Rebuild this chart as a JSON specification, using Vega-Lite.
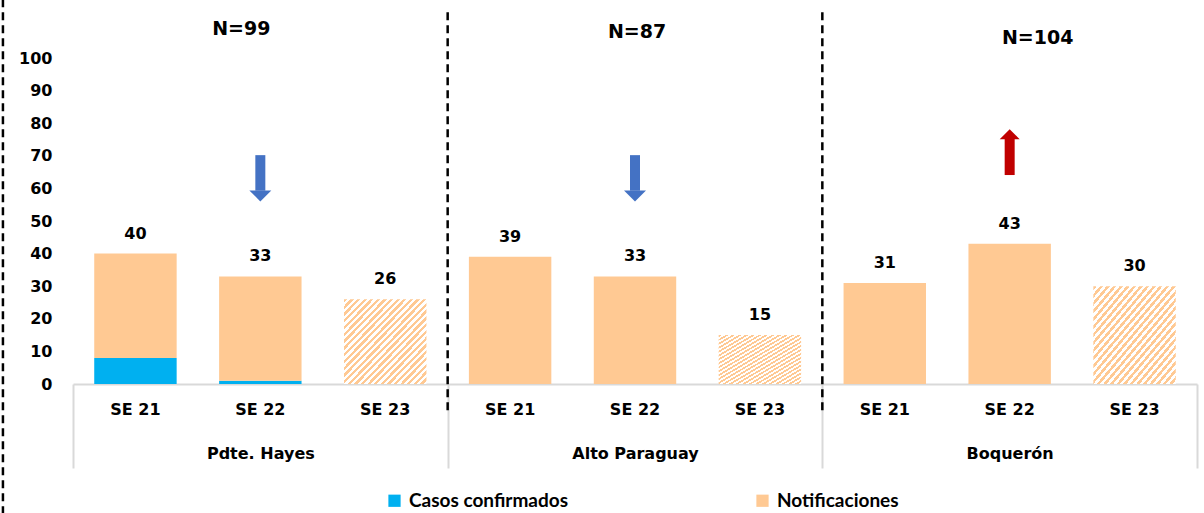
{
  "$schema": "https://vega.github.io/schema/vega-lite/v6.json",
  "width": 1124,
  "height": 326,
  "autosize": {"type": "none"},
  "padding": {"left": 73, "top": 58, "right": 7, "bottom": 129},
  "background": "#FFFFFF",
  "config": {
    "view": {"stroke": null},
    "axis": {"labelFont": "DejaVu Sans", "labelFontWeight": "bold", "labelColor": "#000000", "labelFontSize": 16, "titleFont": "DejaVu Sans", "labelOverlap": false},
    "axisY": {"labelOverlap": false},
    "axisLeft": {"labelOverlap": false},
    "axisQuantitative": {"labelOverlap": false, "tickCount": 11},
    "text": {"font": "DejaVu Sans", "fontWeight": "bold", "color": "#000000"}
  },
  "datasets": {
    "bars": [
      {"region": "Pdte. Hayes", "semana": "SE 21", "clave": "Pdte. Hayes|SE 21", "serie": "Casos confirmados", "valor": 8},
      {"region": "Pdte. Hayes", "semana": "SE 21", "clave": "Pdte. Hayes|SE 21", "serie": "Notificaciones", "valor": 32},
      {"region": "Pdte. Hayes", "semana": "SE 22", "clave": "Pdte. Hayes|SE 22", "serie": "Casos confirmados", "valor": 1},
      {"region": "Pdte. Hayes", "semana": "SE 22", "clave": "Pdte. Hayes|SE 22", "serie": "Notificaciones", "valor": 32},
      {"region": "Pdte. Hayes", "semana": "SE 23", "clave": "Pdte. Hayes|SE 23", "serie": "Casos confirmados", "valor": 0},
      {"region": "Pdte. Hayes", "semana": "SE 23", "clave": "Pdte. Hayes|SE 23", "serie": "Notificaciones", "valor": 26},
      {"region": "Alto Paraguay", "semana": "SE 21", "clave": "Alto Paraguay|SE 21", "serie": "Casos confirmados", "valor": 0},
      {"region": "Alto Paraguay", "semana": "SE 21", "clave": "Alto Paraguay|SE 21", "serie": "Notificaciones", "valor": 39},
      {"region": "Alto Paraguay", "semana": "SE 22", "clave": "Alto Paraguay|SE 22", "serie": "Casos confirmados", "valor": 0},
      {"region": "Alto Paraguay", "semana": "SE 22", "clave": "Alto Paraguay|SE 22", "serie": "Notificaciones", "valor": 33},
      {"region": "Alto Paraguay", "semana": "SE 23", "clave": "Alto Paraguay|SE 23", "serie": "Casos confirmados", "valor": 0},
      {"region": "Alto Paraguay", "semana": "SE 23", "clave": "Alto Paraguay|SE 23", "serie": "Notificaciones", "valor": 15},
      {"region": "Boquerón", "semana": "SE 21", "clave": "Boquerón|SE 21", "serie": "Casos confirmados", "valor": 0},
      {"region": "Boquerón", "semana": "SE 21", "clave": "Boquerón|SE 21", "serie": "Notificaciones", "valor": 31},
      {"region": "Boquerón", "semana": "SE 22", "clave": "Boquerón|SE 22", "serie": "Casos confirmados", "valor": 0},
      {"region": "Boquerón", "semana": "SE 22", "clave": "Boquerón|SE 22", "serie": "Notificaciones", "valor": 43},
      {"region": "Boquerón", "semana": "SE 23", "clave": "Boquerón|SE 23", "serie": "Casos confirmados", "valor": 0},
      {"region": "Boquerón", "semana": "SE 23", "clave": "Boquerón|SE 23", "serie": "Notificaciones", "valor": 30}
    ],
    "regiones": [
      {"region": "Pdte. Hayes", "n": "N=99"},
      {"region": "Alto Paraguay", "n": "N=87"},
      {"region": "Boquerón", "n": "N=104"}
    ],
    "flechas": [
      {"clave": "Pdte. Hayes|SE 22", "tendencia": "baja"},
      {"clave": "Alto Paraguay|SE 22", "tendencia": "baja"},
      {"clave": "Boquerón|SE 22", "tendencia": "sube"}
    ]
  },
  "layer": [
    {
      "data": {"name": "bars"},
      "encoding": {
        "x": {
          "field": "clave",
          "type": "nominal",
          "scale": {
            "domain": ["Pdte. Hayes|SE 21", "Pdte. Hayes|SE 22", "Pdte. Hayes|SE 23", "Alto Paraguay|SE 21", "Alto Paraguay|SE 22", "Alto Paraguay|SE 23", "Boquerón|SE 21", "Boquerón|SE 22", "Boquerón|SE 23"],
            "paddingInner": 0.34,
            "paddingOuter": 0.17
          },
          "axis": {
            "orient": "bottom",
            "title": null,
            "labelExpr": "split(datum.value, '|')[1]",
            "labelAngle": 0,
            "ticks": false,
            "domain": true,
            "domainColor": "#D9D9D9",
            "domainWidth": 2,
            "labelPadding": 17,
            "labelBaseline": "top"
          }
        }
      },
      "layer": [
        {
          "transform": [{"filter": "datum.semana !== 'SE 23'"}],
          "mark": {"type": "bar"},
          "encoding": {
            "y": {
              "field": "valor",
              "type": "quantitative",
              "stack": "zero",
              "scale": {"domain": [0, 100], "nice": false},
              "axis": {"title": null, "values": [0, 10, 20, 30, 40, 50, 60, 70, 80, 90, 100], "tickCount": 11, "grid": false, "domain": false, "ticks": false, "labelPadding": 21, "labelOverlap": false}
            },
            "color": {
              "field": "serie",
              "type": "nominal",
              "scale": {"domain": ["Casos confirmados", "Notificaciones"], "range": ["#00B0F0", "#FFC993"]},
              "legend": {
                "orient": "none",
                "legendX": 312,
                "legendY": 433,
                "direction": "horizontal",
                "title": null,
                "symbolType": "square",
                "symbolSize": 150,
                "symbolStrokeWidth": 0,
                "labelFont": "Lato",
                "labelFontSize": 19,
                "labelFontWeight": "bold",
                "labelColor": "#000000",
                "labelOffset": 5,
                "columnPadding": 185,
                "labelLimit": 400
              }
            },
            "order": {"field": "serie", "sort": "ascending"}
          }
        },
        {
          "transform": [{"filter": "datum.semana === 'SE 23' && datum.serie === 'Notificaciones'"}],
          "mark": {
            "type": "bar",
            "fill": {
              "gradient": "linear",
              "x1": 0, "y1": 0, "x2": 1, "y2": 1,
              "stops": [
                {"offset": 0, "color": "#FFC993"}, {"offset": 0.02, "color": "#FFC993"}, {"offset": 0.02, "color": "#FFFFFF"}, {"offset": 0.04, "color": "#FFFFFF"},
                {"offset": 0.04, "color": "#FFC993"}, {"offset": 0.06, "color": "#FFC993"}, {"offset": 0.06, "color": "#FFFFFF"}, {"offset": 0.08, "color": "#FFFFFF"},
                {"offset": 0.08, "color": "#FFC993"}, {"offset": 0.10, "color": "#FFC993"}, {"offset": 0.10, "color": "#FFFFFF"}, {"offset": 0.12, "color": "#FFFFFF"},
                {"offset": 0.12, "color": "#FFC993"}, {"offset": 0.14, "color": "#FFC993"}, {"offset": 0.14, "color": "#FFFFFF"}, {"offset": 0.16, "color": "#FFFFFF"},
                {"offset": 0.16, "color": "#FFC993"}, {"offset": 0.18, "color": "#FFC993"}, {"offset": 0.18, "color": "#FFFFFF"}, {"offset": 0.20, "color": "#FFFFFF"},
                {"offset": 0.20, "color": "#FFC993"}, {"offset": 0.22, "color": "#FFC993"}, {"offset": 0.22, "color": "#FFFFFF"}, {"offset": 0.24, "color": "#FFFFFF"},
                {"offset": 0.24, "color": "#FFC993"}, {"offset": 0.26, "color": "#FFC993"}, {"offset": 0.26, "color": "#FFFFFF"}, {"offset": 0.28, "color": "#FFFFFF"},
                {"offset": 0.28, "color": "#FFC993"}, {"offset": 0.30, "color": "#FFC993"}, {"offset": 0.30, "color": "#FFFFFF"}, {"offset": 0.32, "color": "#FFFFFF"},
                {"offset": 0.32, "color": "#FFC993"}, {"offset": 0.34, "color": "#FFC993"}, {"offset": 0.34, "color": "#FFFFFF"}, {"offset": 0.36, "color": "#FFFFFF"},
                {"offset": 0.36, "color": "#FFC993"}, {"offset": 0.38, "color": "#FFC993"}, {"offset": 0.38, "color": "#FFFFFF"}, {"offset": 0.40, "color": "#FFFFFF"},
                {"offset": 0.40, "color": "#FFC993"}, {"offset": 0.42, "color": "#FFC993"}, {"offset": 0.42, "color": "#FFFFFF"}, {"offset": 0.44, "color": "#FFFFFF"},
                {"offset": 0.44, "color": "#FFC993"}, {"offset": 0.46, "color": "#FFC993"}, {"offset": 0.46, "color": "#FFFFFF"}, {"offset": 0.48, "color": "#FFFFFF"},
                {"offset": 0.48, "color": "#FFC993"}, {"offset": 0.50, "color": "#FFC993"}, {"offset": 0.50, "color": "#FFFFFF"}, {"offset": 0.52, "color": "#FFFFFF"},
                {"offset": 0.52, "color": "#FFC993"}, {"offset": 0.54, "color": "#FFC993"}, {"offset": 0.54, "color": "#FFFFFF"}, {"offset": 0.56, "color": "#FFFFFF"},
                {"offset": 0.56, "color": "#FFC993"}, {"offset": 0.58, "color": "#FFC993"}, {"offset": 0.58, "color": "#FFFFFF"}, {"offset": 0.60, "color": "#FFFFFF"},
                {"offset": 0.60, "color": "#FFC993"}, {"offset": 0.62, "color": "#FFC993"}, {"offset": 0.62, "color": "#FFFFFF"}, {"offset": 0.64, "color": "#FFFFFF"},
                {"offset": 0.64, "color": "#FFC993"}, {"offset": 0.66, "color": "#FFC993"}, {"offset": 0.66, "color": "#FFFFFF"}, {"offset": 0.68, "color": "#FFFFFF"},
                {"offset": 0.68, "color": "#FFC993"}, {"offset": 0.70, "color": "#FFC993"}, {"offset": 0.70, "color": "#FFFFFF"}, {"offset": 0.72, "color": "#FFFFFF"},
                {"offset": 0.72, "color": "#FFC993"}, {"offset": 0.74, "color": "#FFC993"}, {"offset": 0.74, "color": "#FFFFFF"}, {"offset": 0.76, "color": "#FFFFFF"},
                {"offset": 0.76, "color": "#FFC993"}, {"offset": 0.78, "color": "#FFC993"}, {"offset": 0.78, "color": "#FFFFFF"}, {"offset": 0.80, "color": "#FFFFFF"},
                {"offset": 0.80, "color": "#FFC993"}, {"offset": 0.82, "color": "#FFC993"}, {"offset": 0.82, "color": "#FFFFFF"}, {"offset": 0.84, "color": "#FFFFFF"},
                {"offset": 0.84, "color": "#FFC993"}, {"offset": 0.86, "color": "#FFC993"}, {"offset": 0.86, "color": "#FFFFFF"}, {"offset": 0.88, "color": "#FFFFFF"},
                {"offset": 0.88, "color": "#FFC993"}, {"offset": 0.90, "color": "#FFC993"}, {"offset": 0.90, "color": "#FFFFFF"}, {"offset": 0.92, "color": "#FFFFFF"},
                {"offset": 0.92, "color": "#FFC993"}, {"offset": 0.94, "color": "#FFC993"}, {"offset": 0.94, "color": "#FFFFFF"}, {"offset": 0.96, "color": "#FFFFFF"},
                {"offset": 0.96, "color": "#FFC993"}, {"offset": 0.98, "color": "#FFC993"}, {"offset": 0.98, "color": "#FFFFFF"}, {"offset": 1, "color": "#FFFFFF"}
              ]
            }
          },
          "encoding": {
            "y": {"field": "valor", "type": "quantitative", "axis": {"title": null, "values": [0, 10, 20, 30, 40, 50, 60, 70, 80, 90, 100], "tickCount": 11, "grid": false, "domain": false, "ticks": false, "labelPadding": 21, "labelOverlap": false}}
          }
        },
        {
          "transform": [{"aggregate": [{"op": "sum", "field": "valor", "as": "total"}], "groupby": ["clave"]}],
          "mark": {"type": "text", "dy": -20, "baseline": "middle", "fontSize": 16, "font": "DejaVu Sans", "fontWeight": "bold", "color": "#000000"},
          "encoding": {
            "y": {"field": "total", "type": "quantitative", "axis": {"title": null, "values": [0, 10, 20, 30, 40, 50, 60, 70, 80, 90, 100], "tickCount": 11, "grid": false, "domain": false, "ticks": false, "labelPadding": 21, "labelOverlap": false}},
            "text": {"field": "total", "type": "quantitative"}
          }
        },
        {
          "data": {"name": "flechas"},
          "transform": [{"filter": "datum.tendencia === 'baja'"}],
          "mark": {"type": "rule", "strokeWidth": 10, "color": "#4472C4"},
          "encoding": {"y": {"datum": 70.2}, "y2": {"datum": 59.3}}
        },
        {
          "data": {"name": "flechas"},
          "transform": [{"filter": "datum.tendencia === 'baja'"}],
          "mark": {"type": "point", "shape": "M-1,-0.5 L1,-0.5 L0,0.5 Z", "size": 484, "filled": true, "opacity": 1, "color": "#4472C4", "strokeWidth": 0},
          "encoding": {"y": {"datum": 57.7}}
        },
        {
          "data": {"name": "flechas"},
          "transform": [{"filter": "datum.tendencia === 'sube'"}],
          "mark": {"type": "rule", "strokeWidth": 10, "color": "#C00000"},
          "encoding": {"y": {"datum": 64.1}, "y2": {"datum": 75.3}}
        },
        {
          "data": {"name": "flechas"},
          "transform": [{"filter": "datum.tendencia === 'sube'"}],
          "mark": {"type": "point", "shape": "M-1,0.5 L1,0.5 L0,-0.5 Z", "size": 400, "filled": true, "opacity": 1, "color": "#C00000", "strokeWidth": 0},
          "encoding": {"y": {"datum": 76.6}}
        }
      ]
    },
    {
      "data": {"name": "regiones"},
      "encoding": {
        "x": {
          "field": "region",
          "type": "nominal",
          "scale": {"domain": ["Pdte. Hayes", "Alto Paraguay", "Boquerón"], "paddingInner": 0, "paddingOuter": 0},
          "axis": {
            "orient": "bottom",
            "title": null,
            "labelAngle": 0,
            "tickBand": "extent",
            "ticks": true,
            "tickColor": "#D9D9D9",
            "tickWidth": 2,
            "tickSize": 84,
            "domain": false,
            "labelPadding": -23,
            "labelBaseline": "top"
          }
        }
      },
      "layer": [
        {
          "transform": [{"filter": "datum.region === 'Pdte. Hayes'"}],
          "mark": {"type": "text", "fontSize": 19, "font": "DejaVu Sans", "fontWeight": "bold", "baseline": "middle", "color": "#000000", "dx": -19},
          "encoding": {"y": {"datum": 109}, "text": {"field": "n"}}
        },
        {
          "transform": [{"filter": "datum.region === 'Alto Paraguay'"}],
          "mark": {"type": "text", "fontSize": 19, "font": "DejaVu Sans", "fontWeight": "bold", "baseline": "middle", "color": "#000000", "dx": 2},
          "encoding": {"y": {"datum": 108}, "text": {"field": "n"}}
        },
        {
          "transform": [{"filter": "datum.region === 'Boquerón'"}],
          "mark": {"type": "text", "fontSize": 19, "font": "DejaVu Sans", "fontWeight": "bold", "baseline": "middle", "color": "#000000", "dx": 28},
          "encoding": {"y": {"datum": 106}, "text": {"field": "n"}}
        },
        {
          "transform": [{"filter": "datum.region !== 'Pdte. Hayes'"}],
          "mark": {"type": "rule", "color": "#000000", "strokeWidth": 2.5, "strokeDash": [8, 5]},
          "encoding": {"x": {"field": "region", "type": "nominal", "bandPosition": 0}, "y": {"datum": 114}, "y2": {"datum": -9}}
        },
        {
          "transform": [{"filter": "datum.region === 'Pdte. Hayes'"}],
          "mark": {"type": "rule", "color": "#000000", "strokeWidth": 2.5, "strokeDash": [8, 5]},
          "encoding": {"x": {"field": "region", "type": "nominal", "bandPosition": -0.187}, "y": {"datum": 118}, "y2": {"datum": -40}}
        }
      ]
    }
  ],
  "resolve": {"scale": {"x": "independent"}, "axis": {"x": "independent"}}
}
